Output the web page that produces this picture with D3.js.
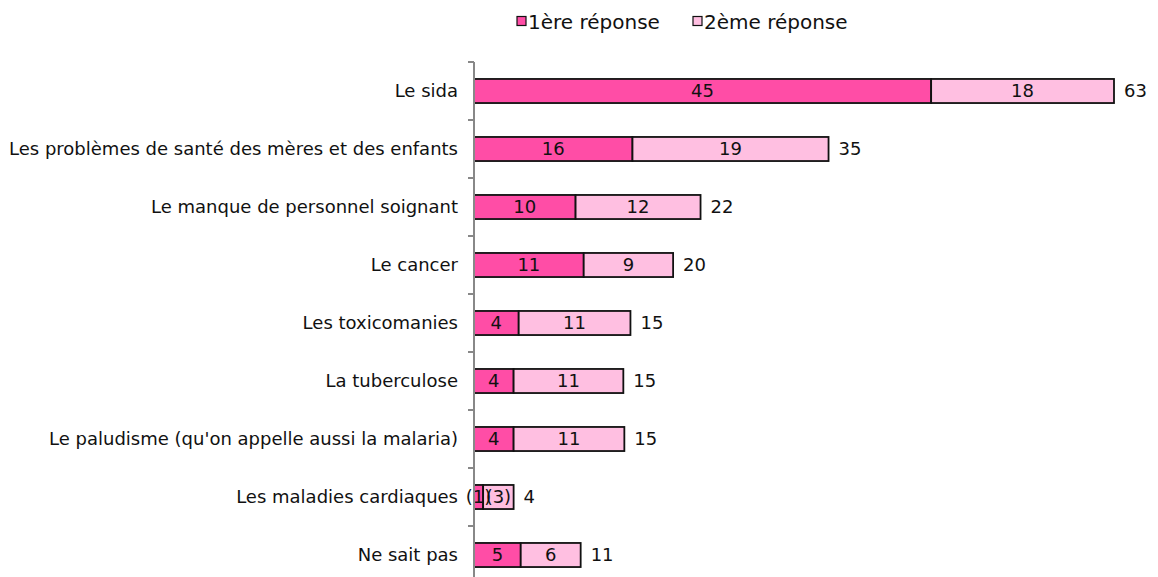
<!DOCTYPE html>
<html>
<head>
<meta charset="utf-8">
<script src="https://cdn.jsdelivr.net/npm/d3@7"></script>
<style>
  body { margin: 0; background: #fff; }
  #chart { width: 1158px; height: 577px; }
  text { font-family: "DejaVu Sans", sans-serif; fill: #111; }
</style>
</head>
<body>
<div id="chart"></div>
<script>
// data
const categories = [
    "Le sida",
    "Les problèmes de santé des mères et des enfants",
    "Le manque de personnel soignant",
    "Le cancer",
    "Les toxicomanies",
    "La tuberculose",
    "Le paludisme (qu'on appelle aussi la malaria)",
    "Les maladies cardiaques",
    "Ne sait pas"
];
const first = [45, 15.6, 10.0, 10.8, 4.4, 3.9, 3.9, 0.9, 4.6];
const second = [18, 19.3, 12.3, 8.8, 11.0, 10.8, 10.9, 3.0, 5.9];
const firstLabels = ["45", "16", "10", "11", "4", "4", "4", "(1)", "5"];
const secondLabels = ["18", "19", "12", "9", "11", "11", "11", "(3)", "6"];
const totalLabels = ["63", "35", "22", "20", "15", "15", "15", "4", "11"];
const seriesNames = ["1ère réponse", "2ème réponse"];
const colors = ["#ff4da6", "#ffbfe1"];

let width = 1158, height = 577;
let margin = {top: 62, left: 474};
let fontSize = 18;

let svg = d3.select("#chart").append("svg")
    .attr("width", width)
    .attr("height", height);

let x = d3.scaleLinear().domain([0, 63]).range([margin.left, margin.left + 640]);
let y = d3.scaleBand().domain(categories)
    .range([margin.top, margin.top + 58 * 9])
    .paddingInner(0.585).paddingOuter(0.2925);

let rows = categories.map((c, i) => ({
    cat: c,
    segs: [
        {x0: 0, x1: first[i], lab: firstLabels[i], color: colors[0]},
        {x0: first[i], x1: first[i] + second[i], lab: secondLabels[i], color: colors[1]}
    ],
    total: totalLabels[i]
}));

let g = svg.append("g");

let rowG = g.selectAll(".row").data(rows).enter().append("g").attr("class", "row");

rowG.selectAll("rect").data(d => d.segs.map(s => Object.assign({cat: d.cat}, s)))
    .enter().append("rect")
    .attr("x", d => x(d.x0))
    .attr("y", d => y(d.cat))
    .attr("width", d => x(d.x1) - x(d.x0))
    .attr("height", y.bandwidth())
    .attr("fill", d => d.color)
    .attr("stroke", "#111")
    .attr("stroke-width", 1.8);

rowG.selectAll(".seg-label").data(d => d.segs.map(s => Object.assign({cat: d.cat}, s)))
    .enter().append("text")
    .attr("class", "seg-label")
    .attr("x", d => (x(d.x0) + x(d.x1)) / 2)
    .attr("y", d => y(d.cat) + y.bandwidth() / 2)
    .attr("dy", "0.36em")
    .attr("text-anchor", "middle")
    .attr("font-size", fontSize)
    .text(d => d.lab);

// totals
rowG.append("text")
    .attr("x", (d, i) => x(first[i] + second[i]) + 10)
    .attr("y", d => y(d.cat) + y.bandwidth() / 2)
    .attr("dy", "0.36em")
    .attr("font-size", fontSize)
    .text(d => d.total);

// category axis
let yAxis = d3.axisLeft(y).tickSize(0).tickPadding(16);
let ax = g.append("g")
    .attr("transform", `translate(${margin.left},0)`)
    .call(yAxis);
ax.select(".domain").remove();
ax.selectAll("text")
    .attr("font-size", fontSize)
    .attr("font-family", "DejaVu Sans, sans-serif")
    .attr("fill", "#111");

g.append("line")
    .attr("x1", margin.left).attr("x2", margin.left)
    .attr("y1", margin.top).attr("y2", height)
    .attr("stroke", "#888").attr("stroke-width", 2);

let step = y.step();
g.selectAll(".tick-mark").data(d3.range(categories.length + 1))
    .enter().append("line")
    .attr("x1", margin.left - 6).attr("x2", margin.left)
    .attr("y1", i => margin.top + i * step)
    .attr("y2", i => margin.top + i * step)
    .attr("stroke", "#888").attr("stroke-width", 2);

// legend
let legendX = [517, 693];
let legend = svg.selectAll(".legend").data(seriesNames).enter().append("g")
    .attr("transform", (d, i) => `translate(${legendX[i]},16.5)`);
legend.append("rect")
    .attr("width", 9).attr("height", 9)
    .attr("fill", (d, i) => colors[i])
    .attr("stroke", "#111").attr("stroke-width", 1.2);
legend.append("text")
    .attr("x", 11).attr("y", 5.5)
    .attr("dy", "0.36em")
    .attr("font-size", 20)
    .text(d => d);
</script>
</body>
</html>
